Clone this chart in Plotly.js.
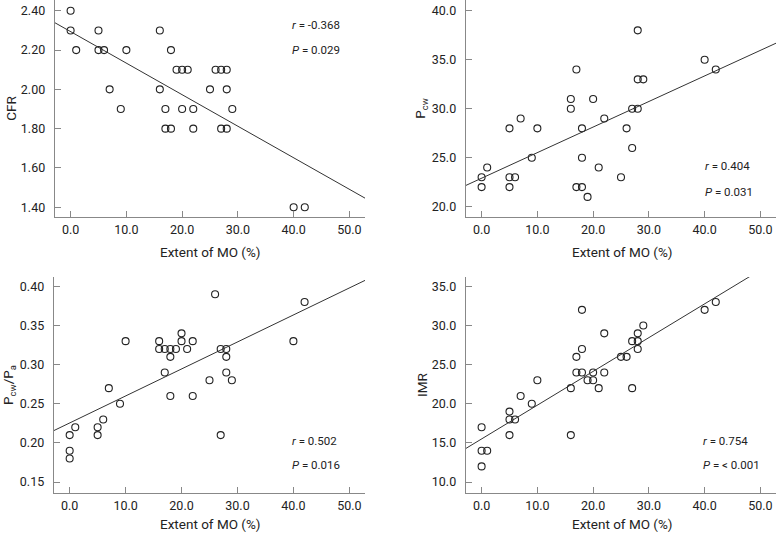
<!DOCTYPE html>
<html>
<head>
<meta charset="utf-8">
<script src="https://cdn.plot.ly/plotly-3.0.1.min.js"></script>
<style>
  html, body { margin: 0; padding: 0; background: #fff; }
  #chart { width: 776px; height: 535px; }
</style>
</head>
<body>
<div id="chart"></div>
<script>
// Extent of MO (%) against each index
const moCFR  = [0, 0, 1, 5, 5, 6, 10, 7, 9, 16, 18, 19, 20, 21, 16, 17, 20, 22, 17, 18, 22, 25, 26, 27, 28, 28, 29, 27, 28, 40, 42];
const cfr    = [2.40, 2.30, 2.20, 2.30, 2.20, 2.20, 2.20, 2.00, 1.90, 2.30, 2.20, 2.10, 2.10, 2.10, 2.00, 1.90, 1.90, 1.90, 1.80, 1.80, 1.80, 2.00, 2.10, 2.10, 2.10, 2.00, 1.90, 1.80, 1.80, 1.40, 1.40];

const moPcw  = [0, 0, 1, 5, 5, 6, 5, 7, 10, 9, 16, 16, 17, 18, 18, 17, 18, 19, 20, 22, 21, 25, 26, 27, 28, 27, 28, 28, 29, 40, 42];
const pcw    = [23, 22, 24, 28, 23, 23, 22, 29, 28, 25, 31, 30, 34, 28, 25, 22, 22, 21, 31, 29, 24, 23, 28, 30, 30, 26, 38, 33, 33, 35, 34];

const moRatio = [0, 0, 0, 1, 5, 5, 6, 7, 9, 10, 16, 16, 17, 18, 19, 17, 18, 18, 20, 20, 21, 22, 22, 25, 26, 27, 28, 28, 28, 29, 27, 40, 42];
const ratio   = [0.18, 0.19, 0.21, 0.22, 0.22, 0.21, 0.23, 0.27, 0.25, 0.33, 0.33, 0.32, 0.32, 0.32, 0.32, 0.29, 0.31, 0.26, 0.34, 0.33, 0.32, 0.33, 0.26, 0.28, 0.39, 0.32, 0.32, 0.31, 0.29, 0.28, 0.21, 0.33, 0.38];

const moIMR  = [0, 0, 1, 0, 5, 5, 6, 5, 7, 9, 10, 16, 16, 17, 18, 18, 17, 18, 19, 20, 20, 21, 22, 22, 25, 26, 27, 28, 28, 28, 29, 27, 40, 42];
const imr    = [17, 14, 14, 12, 19, 18, 18, 16, 21, 20, 23, 22, 16, 26, 32, 27, 24, 24, 23, 24, 23, 22, 29, 24, 26, 26, 28, 28, 29, 27, 30, 22, 32, 33];

// regression lines: [CFR, Pcw, Pcw/Pa, IMR]
const fitIntercept = [2.294, 22.91, 0.2255, 15.51];
const fitSlope     = [-0.01606, 0.261, 0.00345, 0.4315];
const fitLabels = [
  ["<i>r</i> = -0.368", "<i>P</i> = 0.029"],
  ["<i>r</i> = 0.404", "<i>P</i> = 0.031"],
  ["<i>r</i> = 0.502", "<i>P</i> = 0.016"],
  ["<i>r</i> = 0.754", "<i>P</i> = < 0.001"]
];
const xTitle = "Extent of MO (%)";

const FONT = "Roboto, 'Liberation Sans', sans-serif";
const INK = "#222";
const W = 776, H = 535;
const xRange = [-2.8, 52.8];

const panels = [
  { x: moCFR, y: cfr, title: "CFR", yr: [1.35, 2.455], dt: 0.2, t0: 1.4, fmt: ".2f",
    px: [55, 365], py: [0, 217], tx: [211, 252], lab: [[39.4, 2.327], [39.4, 2.20]] },
  { x: moPcw, y: pcw, title: "P<sub>cw</sub>", yr: [18.95, 41.1], dt: 5, t0: 20, fmt: ".1f",
    px: [466, 776], py: [0, 217], tx: [622, 252], lab: [[39.7, 24.2], [39.7, 21.5]] },
  { x: moRatio, y: ratio, title: "P<sub>cw</sub>/P<sub>a</sub>", yr: [0.136, 0.412], dt: 0.05, t0: 0.15, fmt: ".2f",
    px: [54, 365], py: [277, 493], tx: [211, 524], lab: [[39.4, 0.203], [39.4, 0.172]] },
  { x: moIMR, y: imr, title: "IMR", yr: [8.6, 36.2], dt: 5, t0: 10, fmt: ".1f",
    px: [466, 776], py: [277, 493], tx: [622, 524], lab: [[39.3, 15.3], [39.3, 12.2]] }
];

const traces = [];
const layout = {
  width: W, height: H,
  margin: { l: 0, r: 0, t: 0, b: 0 },
  paper_bgcolor: "#fff", plot_bgcolor: "#fff",
  showlegend: false,
  font: { family: FONT, size: 12, color: INK },
  annotations: []
};

panels.forEach((p, i) => {
  const n = i === 0 ? "" : String(i + 1);
  const xa = "x" + n, ya = "y" + n;

  traces.push({
    x: p.x, y: p.y, xaxis: xa, yaxis: ya,
    mode: "markers", type: "scatter",
    marker: { symbol: "circle-open", size: 7, color: INK, line: { width: 1.1, color: INK } },
    hoverinfo: "x+y"
  });
  traces.push({
    x: xRange, y: xRange.map(v => fitIntercept[i] + fitSlope[i] * v),
    xaxis: xa, yaxis: ya, mode: "lines", type: "scatter",
    line: { color: "#333", width: 1 }, hoverinfo: "skip"
  });

  const axCommon = {
    showline: true, linecolor: "#888", linewidth: 1.3,
    ticks: "inside", ticklen: 6, tickcolor: "#888", tickwidth: 1,
    showgrid: false, zeroline: false, fixedrange: true,
    tickfont: { family: FONT, size: 12.5, color: INK }
  };
  layout["xaxis" + n] = Object.assign({}, axCommon, {
    domain: [p.px[0] / W, p.px[1] / W], anchor: ya,
    range: xRange, tickmode: "linear", tick0: 0, dtick: 10, tickformat: ".1f",
    ticklabelstandoff: 1
  });
  layout["yaxis" + n] = Object.assign({}, axCommon, {
    domain: [1 - p.py[1] / H, 1 - p.py[0] / H], anchor: xa,
    range: p.yr, tickmode: "linear", tick0: p.t0, dtick: p.dt, tickformat: p.fmt,
    ticklabelstandoff: 6,
    title: { text: p.title, font: { family: FONT, size: 13.5, color: INK } }
  });

  // x axis title placed under each panel
  layout.annotations.push({
    xref: "paper", yref: "paper", x: p.tx[0] / W, y: 1 - p.tx[1] / H,
    text: xTitle, showarrow: false, xanchor: "center", yanchor: "middle",
    font: { family: FONT, size: 13.5, color: INK }
  });

  p.lab.forEach((pos, k) => {
    layout.annotations.push({
      xref: xa, yref: ya, x: pos[0], y: pos[1],
      text: fitLabels[i][k], showarrow: false,
      xanchor: "left", yanchor: "middle",
      font: { family: FONT, size: 11.5, color: INK }
    });
  });
});

Plotly.newPlot("chart", traces, layout, { displayModeBar: false, staticPlot: true });
</script>
</body>
</html>
